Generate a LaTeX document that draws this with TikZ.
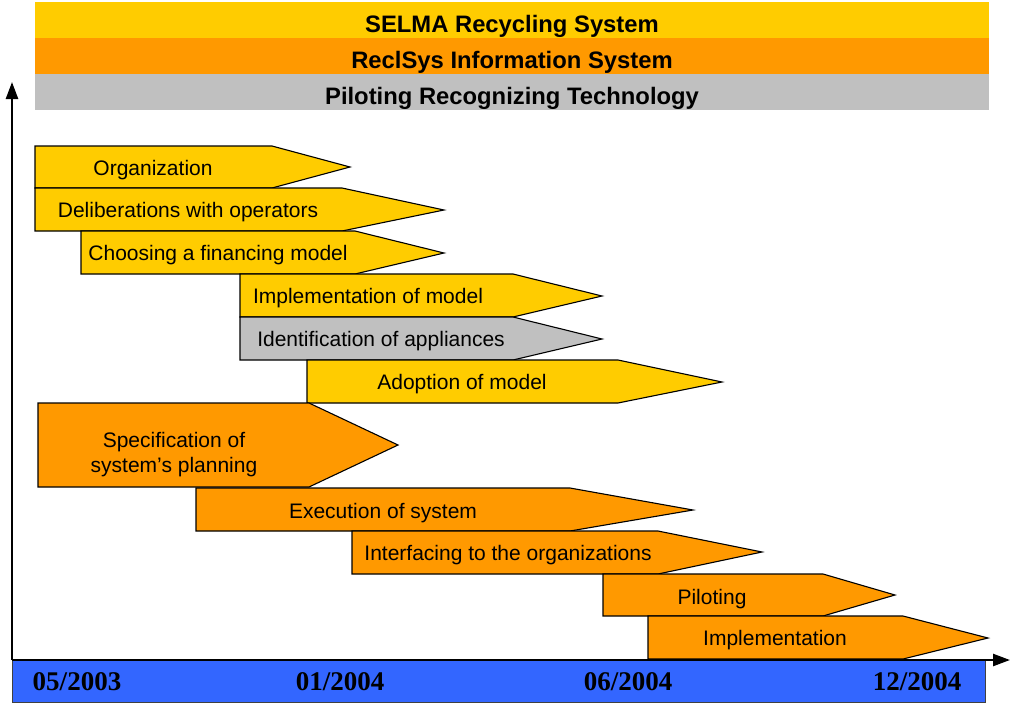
\documentclass[tikz,border=0pt]{standalone}
\usepackage{fontspec}
\setmainfont{Liberation Sans}
\newfontfamily\datefont{Liberation Serif}
\usetikzlibrary{arrows.meta,positioning}

\definecolor{selma}{HTML}{FFCC00}
\definecolor{reclsys}{HTML}{FF9900}
\definecolor{piloting}{HTML}{C0C0C0}
\definecolor{timebar}{HTML}{3366FF}

\tikzset{
  banner/.style={minimum width=954pt, minimum height=36pt, inner sep=0pt,
    text height=24pt, text depth=0pt,
    font=\fontsize{23.8}{26}\selectfont\bfseries},
  task/.style={draw=black, line width=1.1pt, line join=miter},
  tasktext/.style={font=\fontsize{21}{25}\selectfont, inner sep=0pt},
  datetext/.style={font=\fontsize{27}{30}\selectfont\datefont\bfseries, inner sep=0pt},
  axis/.style={line width=2.4pt, -{Triangle[length=17pt,width=12pt]}}
}

\begin{document}
\begin{tikzpicture}[x=1pt,y=-1pt]
        \useasboundingbox (0,0) rectangle (1011,704);
        % the three project layers
        \node[banner, fill=selma] (selmabar) at (512,20) {SELMA Recycling System};
        \node[banner, fill=reclsys] (reclbar) at (512,56) {ReclSys Information System};
        \node[banner, fill=piloting] (pilotbar) at (512,92) {Piloting Recognizing Technology};

        % time line
        \draw[fill=timebar, draw=black!75, line width=1pt] (12,660) rectangle (985,702);
        \node[datetext] (d1) at (77,682) {05/2003};
        \node[datetext] (d2) at (340,682) {01/2004};
        \node[datetext] (d3) at (628,682) {06/2004};
        \node[datetext] (d4) at (917,682) {12/2004};

        % SELMA tasks
        \draw[task, fill=selma] (35,146) -- (272,146) -- (350,167) -- (272,188) -- (35,188) -- cycle;
        \node[tasktext] (org) at (153,170.5) {Organization};
        \draw[task, fill=selma] (35,188) -- (342,188) -- (444,210) -- (342,231) -- (35,231) -- cycle;
        \node[tasktext] (delib) at (188,212.5) {Deliberations with operators};
        \draw[task, fill=selma] (81,231) -- (355,231) -- (444,253) -- (355,274) -- (81,274) -- cycle;
        \node[tasktext] (choose) at (218,255.5) {Choosing a financing model};
        \draw[task, fill=selma] (240,274) -- (513,274) -- (602,296) -- (513,317) -- (240,317) -- cycle;
        \node[tasktext] (implmodel) at (368,298.5) {Implementation of model};
        \draw[task, fill=piloting] (240,317) -- (513,317) -- (602,339) -- (513,360) -- (240,360) -- cycle;
        \node[tasktext] (ident) at (381,341.5) {Identification of appliances};
        \draw[task, fill=selma] (307,360) -- (618,360) -- (722,382) -- (618,403) -- (307,403) -- cycle;
        \node[tasktext] (adopt) at (462,384.5) {Adoption of model};

        % ReclSys tasks
        \draw[task, fill=reclsys] (38,403) -- (309,403) -- (398,445) -- (309,487) -- (38,487) -- cycle;
        \node[tasktext, align=center] (spec) at (174,455) {Specification of\\system’s planning};
        \draw[task, fill=reclsys] (196,488) -- (570,488) -- (693,510) -- (570,531) -- (196,531) -- cycle;
        \node[tasktext] (exec) at (383,513.5) {Execution of system};
        \draw[task, fill=reclsys] (352,531) -- (658,531) -- (762,552) -- (658,574) -- (352,574) -- cycle;
        \node[tasktext] (iface) at (508,555.5) {Interfacing to the organizations};
        \draw[task, fill=reclsys] (603,574) -- (823,574) -- (895,595) -- (823,616) -- (603,616) -- cycle;
        \node[tasktext] (pilot) at (712,599.5) {Piloting};
        \draw[task, fill=reclsys] (648,616) -- (903,616) -- (988,638) -- (903,659) -- (648,659) -- cycle;
        \node[tasktext] (impl) at (775,640.5) {Implementation};

        % axes
        \coordinate (origin) at (12,660);
        \coordinate (ytip) at (12,82);
        \coordinate (xtip) at (1010,660);
        \draw[axis] (origin) -- (ytip);
        \draw[axis] (origin) -- (xtip);
\end{tikzpicture}
\end{document}
